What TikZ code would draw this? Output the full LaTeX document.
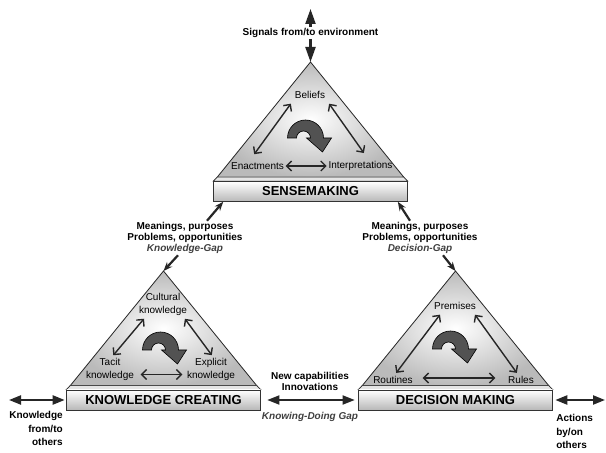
\documentclass[tikz,border=0pt]{standalone}
\usepackage{fontspec}
\setmainfont{Liberation Sans}
\usetikzlibrary{arrows.meta}
\usetikzlibrary{positioning}
\usetikzlibrary{calc, shapes, backgrounds}

\begin{document}
\begin{tikzpicture}[x=1pt,y=1pt,>={Stealth[length=9pt,width=7pt]},semithick]
 \tikzset{
   slab node/.style={rectangle,draw=black!80,top color=white,bottom color=black!28,minimum width=194pt,minimum height=20pt,inner sep=0pt,font=\fontsize{13}{15}\selectfont\bfseries},
   inner node/.style={align=center,inner sep=1.5pt,font=\fontsize{10}{12.5}\selectfont},
   note node/.style={align=center,inner sep=1pt,font=\fontsize{10}{11.3}\selectfont\bfseries},
   gap text/.style={font=\fontsize{10}{11.3}\selectfont\bfseries\itshape,text=black!75},
   side node/.style={inner sep=1pt,font=\fontsize{10}{13.5}\selectfont\bfseries},
   tri/.style={draw=black!85,line width=0.8pt,inner color=white,outer color=black!27},
   top face/.style={draw=black!85,line width=0.6pt,fill=black!10},
   link/.style={<->,>={Straight Barb[length=5pt,width=10pt]},line width=1.4pt,black!85},
   gap/.style={->,line width=2.2pt,black!85},
   outer/.style={<->,>={Triangle[length=12pt,width=9pt]},line width=2.2pt,black!85},
   big/.style={->,>={Triangle[length=15pt,width=10pt]},line width=2.2pt,black!85},
   curl/.style={draw=black,line width=0.6pt,fill=black!68}
 }
 \useasboundingbox (0,0) rectangle (606,453);

 % slabs
 \node[slab node] (sm) at (310.5,261.5) {SENSEMAKING};
 \node[slab node] (kc) at (163.5,53) {KNOWLEDGE CREATING};
 \node[slab node] (dm) at (455.5,53) {DECISION MAKING};

 \coordinate (smtop) at (310.5,391);
 \coordinate (kctop) at (163.5,182);
 \coordinate (dmtop) at (455.5,182);

 \begin{scope}[on background layer]
  \fill[white] (0,0) rectangle (606,453);
  \shadedraw[tri] ([shift={(4pt,4pt)}]sm.north west) -- (smtop) -- ([shift={(-4pt,4pt)}]sm.north east) -- cycle;
  \shadedraw[tri] ([shift={(4pt,4pt)}]kc.north west) -- (kctop) -- ([shift={(-4pt,4pt)}]kc.north east) -- cycle;
  \shadedraw[tri] ([shift={(4pt,4pt)}]dm.north west) -- (dmtop) -- ([shift={(-4pt,4pt)}]dm.north east) -- cycle;
  \filldraw[top face] (sm.north west) -- ([shift={(4pt,4pt)}]sm.north west) -- ([shift={(-4pt,4pt)}]sm.north east) -- (sm.north east) -- cycle;
  \filldraw[top face] (kc.north west) -- ([shift={(4pt,4pt)}]kc.north west) -- ([shift={(-4pt,4pt)}]kc.north east) -- (kc.north east) -- cycle;
  \filldraw[top face] (dm.north west) -- ([shift={(4pt,4pt)}]dm.north west) -- ([shift={(-4pt,4pt)}]dm.north east) -- (dm.north east) -- cycle;
 \end{scope}

 % sensemaking
 \node[inner node] (bel) at (310,358) {Beliefs};
 \node[inner node] (ena) at (257.5,287) {Enactments};
 \node[inner node] (int) at (360.5,287) {Interpretations};
 \path[link] (ena) edge (int);
 \path[link,shorten <=4pt,shorten >=8pt] (bel.south west) edge ([xshift=-8pt]ena.north);
 \path[link,shorten <=4pt,shorten >=8pt] (bel.south east) edge ([xshift=8pt]int.north);
 \coordinate (smc) at (305.5,315);
 \filldraw[curl] (smc) ++(-18,0) arc[start angle=180,end angle=0,radius=18pt] -- ++(8,0) -- ++(-9,-14) -- ++(-16,14) -- ++(4,0) arc[start angle=0,end angle=180,radius=7pt] -- cycle;

 % knowledge creating
 \node[inner node] (cul) at (163,148.5) {Cultural\\knowledge};
 \node[inner node] (tac) at (110,83.5) {Tacit\\knowledge};
 \node[inner node] (exp) at (211,83.5) {Explicit\\knowledge};
 \path[link,shorten <=2pt,shorten >=2pt] ([xshift=8pt]cul.south west) edge ([xshift=2pt]tac.north);
 \path[link,shorten <=2pt,shorten >=2pt] ([xshift=-5pt]cul.south east) edge ([xshift=2pt]exp.north);
 \path[link,shorten <=5pt,shorten >=3pt] ([yshift=-5pt]tac.east) edge ([yshift=-5pt]exp.west);
 \coordinate (kcc) at (160.5,103);
 \filldraw[curl] (kcc) ++(-18,0) arc[start angle=180,end angle=0,radius=18pt] -- ++(8,0) -- ++(-9,-14) -- ++(-16,14) -- ++(4,0) arc[start angle=0,end angle=180,radius=7pt] -- cycle;

 % decision making
 \node[inner node] (pre) at (455,147) {Premises};
 \node[inner node] (rou) at (393,73) {Routines};
 \node[inner node] (rul) at (521,73) {Rules};
 \path[link,shorten <=4pt,shorten >=2pt] ([xshift=10pt]pre.south west) edge ([xshift=2pt]rou.north);
 \path[link,shorten <=4pt,shorten >=2pt] ([xshift=-5pt]pre.south east) edge ([xshift=-3pt]rul.north);
 \path[link,shorten <=8pt,shorten >=11pt] ([yshift=2pt]rou.east) edge ([yshift=2pt]rul.west);
 \coordinate (dmc) at (450.5,104);
 \filldraw[curl] (dmc) ++(-18,0) arc[start angle=180,end angle=0,radius=18pt] -- ++(8,0) -- ++(-9,-14) -- ++(-16,14) -- ++(4,0) arc[start angle=0,end angle=180,radius=7pt] -- cycle;

 % gaps
 \node[note node] (kgap) at (185,215) {Meanings, purposes\\Problems, opportunities\\{\itshape\color{black!75}Knowledge-Gap}};
 \draw[gap] ([xshift=22pt]kgap.north) -- ([xshift=10pt]sm.south west);
 \draw[gap] ([xshift=-7pt]kgap.south) -- (kctop);
 \node[note node] (dgap) at (420,215) {Meanings, purposes\\Problems, opportunities\\{\itshape\color{black!75}Decision-Gap}};
 \draw[gap] ([xshift=-10pt]dgap.north) -- ([xshift=-10pt]sm.south east);
 \draw[gap] ([xshift=23pt]dgap.south) -- (dmtop);

 \node[note node] (newc) at (310,71.5) {New capabilities\\Innovations};
 \node[note node,gap text] (kdg) at (310,36) {Knowing-Doing Gap};
 \draw[outer,line width=1.8pt,shorten <=6.5pt,shorten >=3.5pt] (kc.east) -- (dm.west);

 % environment and others
 \node[note node] (sig) at (310.5,420) {Signals from/to environment};
 \coordinate (env) at (310.5,444);
 \draw[big] (sig) -- (env);
 \draw[big] (sig) -- (smtop);

 \coordinate (kout) at (9,53);
 \draw[outer,shorten >=1.5pt] (kout) -- (kc.west);
 \node[side node,align=right,anchor=east] (kfo) at (64,24.5) {Knowledge\\from/to\\others};
 \coordinate (dout) at (605,53);
 \draw[outer,shorten <=2.5pt] (dm.east) -- (dout);
 \node[side node,align=left,anchor=west] (abo) at (555,21.5) {Actions\\by/on\\others};
\end{tikzpicture}
\end{document}
